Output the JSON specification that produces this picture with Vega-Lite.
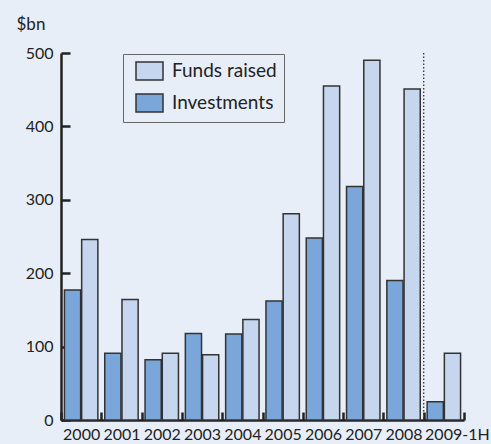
{
  "$schema": "https://vega.github.io/schema/vega-lite/v6.json",
  "width": 403,
  "height": 367,
  "autosize": {"type": "none"},
  "padding": {"left": 61, "top": 53, "right": 27, "bottom": 24},
  "background": "#e8eef7",
  "config": {
    "view": {"stroke": null},
    "font": "Lato",
    "axis": {"labelFont": "Lato", "titleFont": "Lato", "labelColor": "#222", "titleColor": "#222", "domainColor": "#222", "tickColor": "#222"},
    "legend": {"labelFont": "Lato"}
  },
  "data": {
    "values": [
      {"year": "2000", "series": "Investments", "value": 177},
      {"year": "2000", "series": "Funds raised", "value": 246},
      {"year": "2001", "series": "Investments", "value": 91},
      {"year": "2001", "series": "Funds raised", "value": 164},
      {"year": "2002", "series": "Investments", "value": 82},
      {"year": "2002", "series": "Funds raised", "value": 91},
      {"year": "2003", "series": "Investments", "value": 118},
      {"year": "2003", "series": "Funds raised", "value": 89},
      {"year": "2004", "series": "Investments", "value": 117},
      {"year": "2004", "series": "Funds raised", "value": 137},
      {"year": "2005", "series": "Investments", "value": 162},
      {"year": "2005", "series": "Funds raised", "value": 281},
      {"year": "2006", "series": "Investments", "value": 248},
      {"year": "2006", "series": "Funds raised", "value": 455},
      {"year": "2007", "series": "Investments", "value": 318},
      {"year": "2007", "series": "Funds raised", "value": 490},
      {"year": "2008", "series": "Investments", "value": 190},
      {"year": "2008", "series": "Funds raised", "value": 451},
      {"year": "2009-1H", "series": "Investments", "value": 25},
      {"year": "2009-1H", "series": "Funds raised", "value": 91}
    ]
  },
  "layer": [
    {
      "mark": {"type": "bar", "stroke": "#333333", "strokeWidth": 1.5},
      "encoding": {
        "x": {
          "field": "year", "type": "nominal", "sort": null,
          "scale": {"paddingInner": 0, "paddingOuter": 0},
          "axis": {
            "title": null, "labelAngle": 0, "tickBand": "extent", "tickSize": -8,
            "tickWidth": 2.5, "domainWidth": 2.5, "labelFontSize": 16, "labelPadding": 14,
            "labelBaseline": "top", "labelOverlap": false, "labelBound": false,
            "labelOffset": {"condition": {"test": "datum.value == '2009-1H'", "value": 13}, "value": 0}
          }
        },
        "xOffset": {
          "field": "series", "type": "nominal",
          "sort": ["Investments", "Funds raised"],
          "scale": {"paddingInner": 0.06, "paddingOuter": 0.2}
        },
        "y": {
          "field": "value", "type": "quantitative",
          "scale": {"domain": [0, 500], "nice": false},
          "axis": {
            "title": "$bn", "titleAngle": 0, "titleFontSize": 17, "titleFontWeight": "normal",
            "titleX": -45, "titleY": -20, "titleAlign": "left", "titleBaseline": "bottom",
            "values": [0, 100, 200, 300, 400, 500], "grid": false,
            "tickSize": -9, "tickWidth": 2.5, "domainWidth": 2.5,
            "labelFontSize": 16, "labelPadding": 17
          }
        },
        "color": {
          "field": "series", "type": "nominal",
          "scale": {"domain": ["Funds raised", "Investments"], "range": ["#c5d6ee", "#7ba6d9"]},
          "legend": {
            "title": null, "orient": "none", "legendX": 62, "legendY": 1,
            "direction": "vertical",
            "symbolType": "M-1.5,-1H1.5V1H-1.5Z", "symbolSize": 324,
            "symbolStrokeColor": "#333333", "symbolStrokeWidth": 1.5,
            "symbolOffset": 9.5,
            "labelFontSize": 19, "labelColor": "#222", "labelOffset": 12.5,
            "rowPadding": 8, "padding": 7,
            "strokeColor": "#666666", "fillColor": "#e8eef7"
          }
        }
      }
    },
    {
      "data": {"values": [{"divider": "2009-1H"}]},
      "mark": {"type": "rule", "strokeDash": [1.5, 2], "strokeWidth": 1.3, "color": "#333333"},
      "encoding": {
        "x": {"field": "divider", "type": "nominal", "bandPosition": 0}
      }
    }
  ]
}
